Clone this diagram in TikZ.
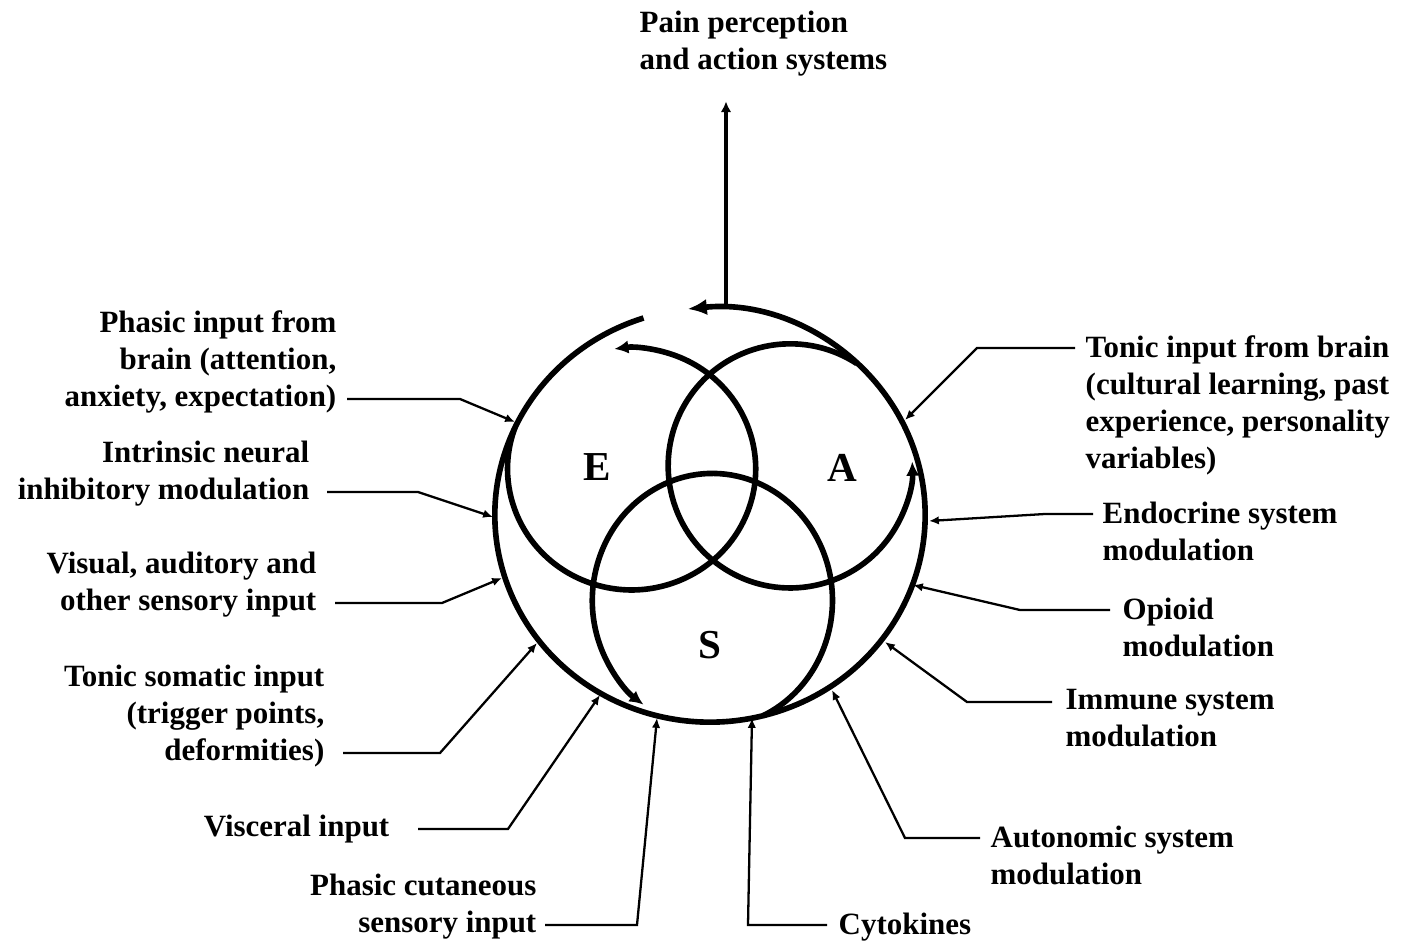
\documentclass[tikz,border=0pt]{standalone}
\usepackage{fontspec}
\setmainfont{Liberation Serif}
\usetikzlibrary{arrows.meta}

\begin{document}
\begin{tikzpicture}[x=0.01cm,y=-0.01cm,
  lab/.style={font=\fontsize{8.8}{10.5}\selectfont\bfseries,inner sep=0pt},
  lft/.style={lab,align=right,anchor=south east},
  rgt/.style={lab,align=left,anchor=north west},
  ring/.style={line width=1.6pt,-{Latex[length=4pt,width=3.8pt]}},
  feed/.style={line width=0.65pt,-{Latex[length=2.8pt,width=2.4pt]}},
  letter/.style={font=\fontsize{11.7}{14}\selectfont\bfseries}]
\path[use as bounding box,fill=white] (0,0) rectangle (1402,943);
\coordinate (B) at (710,515);
\draw[ring,-{Latex[length=5.5pt,width=4.6pt]}] (B) ++(108:2.15cm and 2.07cm) arc[start angle=108,end angle=456,x radius=2.15cm,y radius=2.07cm];
\draw[ring] (B) ++(155:2.15cm and 2.07cm) arc[start angle=160,end angle=458,x radius=1.24cm,y radius=1.21cm];
\draw[ring] (B) ++(47:2.15cm and 2.07cm) arc[start angle=57,end angle=362,radius=1.22cm];
\draw[ring] (B) ++(-75.7:2.15cm and 2.07cm) arc[start angle=-65,end angle=235,x radius=1.2cm,y radius=1.27cm];
\node[letter] (E) at (597,467) {E};
\node[letter] (A) at (842,468) {A};
\node[letter] (S) at (710,645) {S};

\node[lab,align=left,anchor=north west] (pain) at (639,10) {Pain perception\\and action systems};
\coordinate (out) at (726,305);
\draw[line width=0.9pt,-{Latex[length=3pt,width=3pt]},shorten >=0.25cm] (out) -- (out |- pain.south);

\node[lft] (phb) at (337,414) {Phasic input from\\brain (attention,\\anxiety, expectation)};
\node[lft] (inh) at (310,507) {Intrinsic neural\\inhibitory modulation};
\node[lft] (vis) at (317,618) {Visual, auditory and\\other sensory input};
\node[lft] (som) at (325,768) {Tonic somatic input\\(trigger points,\\deformities)};
\node[lft] (visc) at (390,844) {Visceral input};
\node[lft] (cut) at (537,940) {Phasic cutaneous\\sensory input};

\node[rgt] (tib) at (1085,335) {Tonic input from brain\\(cultural learning, past\\experience, personality\\variables)};
\node[rgt] (endo) at (1102,501) {Endocrine system\\modulation};
\node[rgt] (opi) at (1122,597) {Opioid\\modulation};
\node[rgt] (imm) at (1065,689) {Immune system\\modulation};
\node[rgt] (auto) at (990,825) {Autonomic system\\modulation};
\node[rgt] (cyto) at (838,912) {Cytokines};

\coordinate (t1) at (515,422);
\coordinate (t2) at (493,517);
\coordinate (t3) at (502,578);
\coordinate (t4) at (537,643);
\coordinate (t5) at (600,695);
\coordinate (t6) at (657,718);
\coordinate (t7) at (905,420);
\coordinate (t8) at (929,521);
\coordinate (t9) at (913,585);
\coordinate (t10) at (885,642);
\coordinate (t11) at (832,690);
\coordinate (t12) at (752,718);

\draw[feed] ([shift={(10,-15)}]phb.south east) -- ++(113,0) -- (t1);
\draw[feed] ([shift={(17,-15)}]inh.south east) -- ++(91,0) -- (t2);
\draw[feed] ([shift={(18,-15)}]vis.south east) -- ++(107,0) -- (t3);
\draw[feed] ([shift={(18,-15)}]som.south east) -- ++(97,0) -- (t4);
\draw[feed] ([shift={(28,-15)}]visc.south east) -- ++(90,0) -- (t5);
\draw[feed] ([shift={(8,-15)}]cut.south east) -- ++(92,0) -- (t6);
\draw[feed] ([shift={(-10,13)}]tib.north west) -- ++(-98,0) -- (t7);
\draw[feed] ([shift={(-9,13)}]endo.north west) -- ++(-48,0) -- (t8);
\draw[feed] ([shift={(-12,13)}]opi.north west) -- ++(-90,0) -- (t9);
\draw[feed] ([shift={(-13,13)}]imm.north west) -- ++(-85,0) -- (t10);
\draw[feed] ([shift={(-10,13)}]auto.north west) -- ++(-75,0) -- (t11);
\draw[feed] ([shift={(-11,13)}]cyto.north west) -- ++(-79,0) -- (t12);
\end{tikzpicture}
\end{document}
